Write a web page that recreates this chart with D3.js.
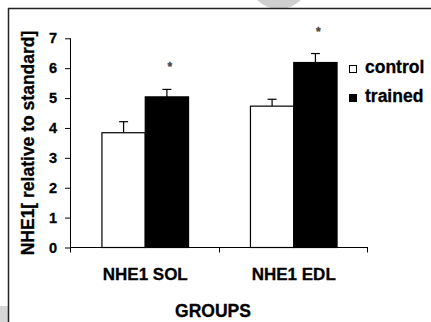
<!DOCTYPE html>
<html>
<head>
<meta charset="utf-8">
<script src="https://cdn.jsdelivr.net/npm/d3@7"></script>
<style>
  body { margin: 0; background: #fff; }
  text { font-family: "Liberation Sans", Arial, sans-serif; font-weight: bold; fill: #000; stroke: #000; stroke-width: 0.3px; }
</style>
</head>
<body>
<div id="canvas"></div>
<script>
"use strict"

/* data */
let groups = ["NHE1 SOL", "NHE1 EDL"];
let seriesNames = ["control", "trained"];
let controlMeans = [3.84, 4.73];
let trainedMeans = [5.04, 6.19];
let controlErr = [0.37, 0.23];
let trainedErr = [0.25, 0.30];
let significant = [true, true];
let yTicks = [0, 1, 2, 3, 4, 5, 6, 7];

let drawing = d3.select("#canvas")
    .append("svg")
    .attr("width", 431)
    .attr("height", 322);

/* faint grey bits and the frame around the figure */
drawing.append("circle")
  .attr("cx", 279).attr("cy", -22).attr("r", 31)
  .attr("fill", "#cfcfcf");
drawing.append("rect")
  .attr("x", 0).attr("y", 306).attr("width", 8).attr("height", 16)
  .attr("fill", "#d6d6d6");
drawing.append("line")
  .attr("x1", 8).attr("y1", 8.5).attr("x2", 431).attr("y2", 8.5)
  .attr("stroke", "#222").attr("stroke-width", 1.5);
drawing.append("line")
  .attr("x1", 8.5).attr("y1", 8).attr("x2", 8.5).attr("y2", 322)
  .attr("stroke", "#222").attr("stroke-width", 1.5);

/* scales */
let x = d3.scaleBand()
  .domain(groups)
  .range([71, 368]);

let bw = x.bandwidth();
let x1 = d3.scaleBand()
  .domain(seriesNames)
  .range([bw / 2 - 43.3, bw / 2 + 43.3]);

let y = d3.scaleLinear()
  .domain([0, 7])
  .range([247.5, 38.3]);

/* y axis */
let yAxis = drawing.append("g")
  .attr("transform", "translate(71,0)")
  .call(d3.axisLeft(y).tickValues(yTicks).tickSize(6).tickPadding(8).tickFormat(d3.format("d")));
yAxis.select(".domain").attr("stroke", "#000").attr("d", "M-0.5," + y(7) + "V" + y(0));
yAxis.selectAll(".tick line").attr("stroke", "#000");
yAxis.selectAll(".tick text")
  .style("font-family", "'Liberation Sans', Arial, sans-serif")
  .style("font-weight", "bold")
  .style("font-size", "14.5px")
  .attr("fill", "#000");

/* x axis line and ticks at the group edges */
drawing.append("line")
  .attr("x1", 70.5).attr("y1", y(0)).attr("x2", x.range()[1]).attr("y2", y(0))
  .attr("stroke", "#000");
let edges = groups.map(g => x(g)).concat([x.range()[1]]);
drawing.selectAll(".xtick")
  .data(edges)
  .join("line")
  .attr("class", "xtick")
  .attr("x1", d => Math.round(d) - 0.5).attr("x2", d => Math.round(d) - 0.5)
  .attr("y1", y(0)).attr("y2", y(0) + 5)
  .attr("stroke", "#000");

drawing.selectAll(".xlabel")
  .data(groups)
  .join("text")
  .attr("class", "xlabel")
  .attr("x", d => x(d) + bw / 2)
  .attr("y", 280)
  .attr("text-anchor", "middle")
  .style("font-size", "17px")
  .text(d => d);

/* bars */
let rows = groups.map((g, i) => ({
  group: g,
  values: [
    { name: "control", mean: controlMeans[i], err: controlErr[i] },
    { name: "trained", mean: trainedMeans[i], err: trainedErr[i] }
  ],
  sig: significant[i]
}));

let groupG = drawing.selectAll(".grp")
  .data(rows)
  .join("g")
  .attr("class", "grp")
  .attr("transform", d => "translate(" + x(d.group) + ",0)");

let bars = groupG.selectAll(".bar")
  .data(d => d.values)
  .join("g")
  .attr("class", "bar");

/* error bars (upper only) */
bars.append("line")
  .attr("x1", d => x1(d.name) + x1.bandwidth() / 2)
  .attr("x2", d => x1(d.name) + x1.bandwidth() / 2)
  .attr("y1", d => y(d.mean))
  .attr("y2", d => y(d.mean + d.err))
  .attr("stroke", "#000").attr("stroke-width", 1.2);
bars.append("line")
  .attr("x1", d => x1(d.name) + x1.bandwidth() / 2 - 4.5)
  .attr("x2", d => x1(d.name) + x1.bandwidth() / 2 + 4.5)
  .attr("y1", d => y(d.mean + d.err))
  .attr("y2", d => y(d.mean + d.err))
  .attr("stroke", "#000").attr("stroke-width", 1.2);

bars.append("rect")
  .attr("x", d => x1(d.name))
  .attr("y", d => y(d.mean))
  .attr("width", x1.bandwidth())
  .attr("height", d => y(0) - y(d.mean))
  .attr("fill", d => d.name === "control" ? "#fff" : "#000")
  .attr("stroke", "#000")
  .attr("stroke-width", 1.2);

/* asterisks over the trained bars */
groupG.filter(d => d.sig)
  .append("text")
  .attr("x", d => x1("trained") + x1.bandwidth() / 2 + 3)
  .attr("y", d => y(d.values[1].mean + d.values[1].err) - 18)
  .attr("text-anchor", "middle")
  .style("font-size", "12px")
  .style("fill", "#444")
  .style("stroke", "#444")
  .text("*");

/* legend */
let legend = drawing.selectAll(".leg")
  .data(seriesNames)
  .join("g")
  .attr("class", "leg")
  .attr("transform", (d, i) => "translate(349," + (65 + i * 29) + ")");
legend.append("rect")
  .attr("x", 0.5).attr("y", 0.5)
  .attr("width", 7).attr("height", 7)
  .attr("fill", d => d === "control" ? "#fff" : "#000")
  .attr("stroke", "#000");
legend.append("text")
  .attr("x", 16)
  .attr("y", 8)
  .style("font-size", "17.5px")
  .text(d => d);

/* axis titles */
drawing.append("text")
  .attr("x", 213)
  .attr("y", 317)
  .attr("text-anchor", "middle")
  .style("font-size", "17.5px")
  .text("GROUPS");

drawing.append("text")
  .attr("transform", "translate(34,143) rotate(-90)")
  .attr("text-anchor", "middle")
  .style("font-size", "17.5px")
  .text("NHE1[ relative to standard]");
</script>
</body>
</html>
